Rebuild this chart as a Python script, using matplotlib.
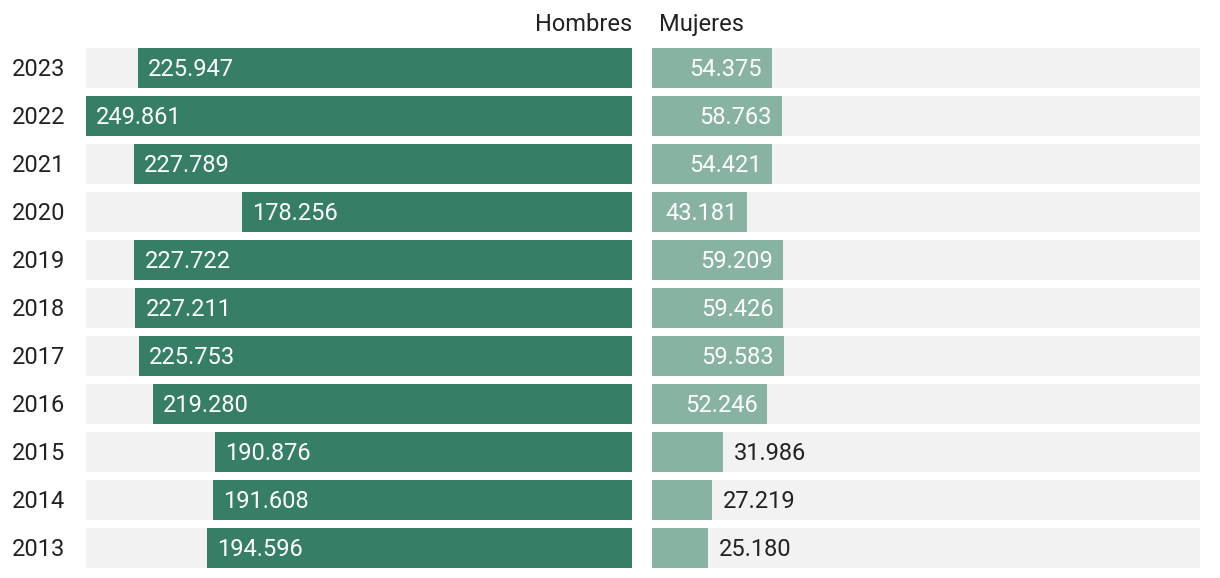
import matplotlib.pyplot as plt

# Data
years = ['2023', '2022', '2021', '2020', '2019', '2018', '2017', '2016', '2015', '2014', '2013']
hombres = [225.947, 249.861, 227.789, 178.256, 227.722, 227.211, 225.753, 219.280, 190.876, 191.608, 194.596]
mujeres = [54.375, 58.763, 54.421, 43.181, 59.209, 59.426, 59.583, 52.246, 31.986, 27.219, 25.180]

plt.rcParams['font.family'] = ['Roboto', 'DejaVu Sans']

dark = '#367f66'
light = '#88b3a3'
bg = '#f2f2f2'
txt = '#222222'
fs = 17

W, H = 1220, 578
fig = plt.figure(figsize=(W / 100, H / 100), dpi=100)

def fx(px):
    return px / W

def fy(px):
    return 1 - px / H

# Axes: bars go from y=48 to y=568 in pixels
ax_l = fig.add_axes([fx(86), fy(568), fx(546), (568 - 48) / H])
ax_r = fig.add_axes([fx(652), fy(568), fx(548), (568 - 48) / H])

h = 40 / 48
pos = list(range(len(years)))
xmax_l = 249.861
xmax_r = 248.0

fmt = lambda v: f'{v:.3f}'
dy = -1.2  # nudge labels down a little (points)

# Left panel (men)
ax_l.barh(pos, [xmax_l] * len(pos), height=h, color=bg)
ax_l.barh(pos, hombres, height=h, color=dark)
ax_l.set_xlim(xmax_l, 0)
for i, v in zip(pos, hombres):
    ax_l.annotate(fmt(v), (v, i), xytext=(7.2, dy), textcoords='offset points',
                  ha='left', va='center', color='white', fontsize=fs)

# Right panel (women)
ax_r.barh(pos, [xmax_r] * len(pos), height=h, color=bg)
ax_r.barh(pos, mujeres, height=h, color=light)
ax_r.set_xlim(0, xmax_r)
for i, v in zip(pos, mujeres):
    if v > 40:
        ax_r.annotate(fmt(v), (v, i), xytext=(-7.2, dy), textcoords='offset points',
                      ha='right', va='center', color='white', fontsize=fs)
    else:
        ax_r.annotate(fmt(v), (v, i), xytext=(7.9, dy), textcoords='offset points',
                      ha='left', va='center', color=txt, fontsize=fs)

for ax in (ax_l, ax_r):
    ax.set_ylim(len(years) - 1 + h / 2, -h / 2)
    ax.axis('off')

# Year labels
for i, y in zip(pos, years):
    fig.text(fx(12), fy(69.5 + 48 * i), y, ha='left', va='center', color=txt, fontsize=fs)

# Headers
fig.text(fx(632), fy(24.5), 'Hombres', ha='right', va='center', color=txt, fontsize=fs)
fig.text(fx(659), fy(24.5), 'Mujeres', ha='left', va='center', color=txt, fontsize=fs)

fig.savefig('out.png', dpi=100)
